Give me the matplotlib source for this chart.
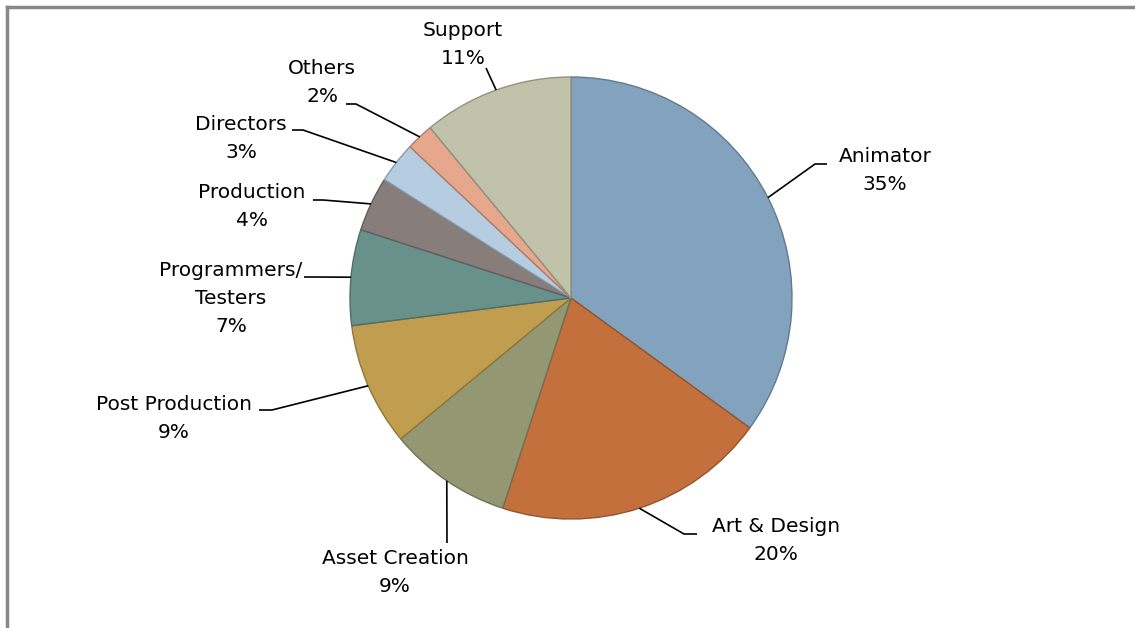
import numpy as np
import matplotlib.pyplot as plt
from matplotlib.colors import to_rgb

# Staff share by role, clockwise from 12 o'clock
roles = ['Animator', 'Art & Design', 'Asset Creation', 'Post Production',
         'Programmers/\nTesters', 'Production', 'Directors', 'Others', 'Support']
shares = [35, 20, 9, 9, 7, 4, 3, 2, 11]
colors = ['#82A2BD', '#C4703D', '#939872', '#C19E4F', '#67918A',
          '#877D7A', '#B6CCE0', '#E6A78D', '#C0C3AA']

# label layout: text centre, elbow point, end of the short horizontal tick
label_pos = [(885, 171), (776, 540), (395, 572), (174, 418), (231, 299),
             (252, 207), (241, 138), (322, 82), (463, 45)]
elbows = [(815, 164), (684, 534), (447, 543), (272, 410), (315, 277),
          (323, 200), (303, 130), (356, 104), (486, 68)]
ticks = [(827, 164), (697, 534), (447, 543), (259, 410), (304, 277),
         (313, 200), (292, 130), (346, 104), (486, 68)]

W, H = 1135, 628
CX, CY, R = 571, 298, 221

plt.rcParams['font.family'] = ['DejaVu Sans']

fig = plt.figure(figsize=(W / 100, H / 100), dpi=100)
ax = fig.add_axes([0, 0, 1, 1])


def darker(c, f=0.75):
    return tuple(v * f for v in to_rgb(c))


wedges, _ = ax.pie(shares, colors=colors, startangle=90, counterclock=False,
                   center=(CX, H - CY), radius=R, frame=True,
                   wedgeprops=dict(linewidth=1.0))
for w, c in zip(wedges, colors):
    w.set_edgecolor(darker(c))
ax.set_xlim(0, W)
ax.set_ylim(0, H)
ax.set_aspect('equal')
ax.axis('off')

for w, role, val, (tx, ty), (ex, ey), (kx, ky) in zip(
        wedges, roles, shares, label_pos, elbows, ticks):
    mid = np.deg2rad((w.theta1 + w.theta2) / 2)
    px = CX + R * np.cos(mid)
    py = (H - CY) + R * np.sin(mid)
    ax.plot([px, ex, kx], [py, H - ey, H - ky], color='black', lw=1.2,
            solid_capstyle='butt', zorder=1)
    ax.text(tx, H - ty, f'{role}\n{val}%', ha='center', va='center',
            fontsize=14.5, linespacing=1.6, color='black')

# chart frame, only its top and left edges fall inside the image
ax.plot([7, W], [H - 7, H - 7], color='#888888', lw=2.5, clip_on=False)
ax.plot([7, 7], [H - 7, 0], color='#888888', lw=2.5, clip_on=False)

fig.savefig('out.png', dpi=100, facecolor='white')
